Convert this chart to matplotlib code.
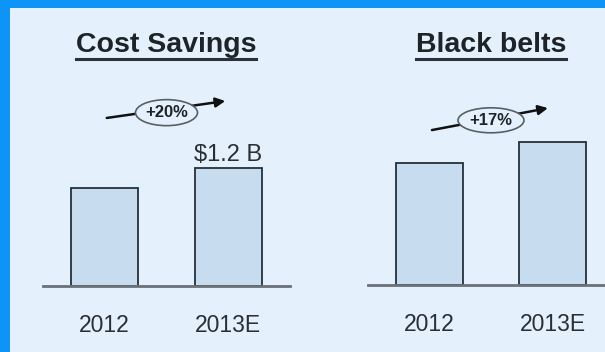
import matplotlib
matplotlib.use("Agg")
import matplotlib.pyplot as plt
from matplotlib.lines import Line2D
from matplotlib.patches import Rectangle, Ellipse

# ---- data ---------------------------------------------------------------
years = ["2012", "2013E"]
cost_savings = [1.0, 1.2]          # $ B
black_belts = [100, 117]           # index, 2012 = 100
cost_label = "$1.2 B"
cost_growth = "+20%"
belt_growth = "+17%"

# ---- style --------------------------------------------------------------
BLUE = "#0C95F6"
BG = "#E4F1FC"
BAR = "#C8DCF0"
EDGE = "#25313A"
BASE = "#6B7178"
TXT = "#1E2328"
FONT = ["Liberation Sans", "DejaVu Sans"]
plt.rcParams["font.family"] = FONT

W, H = 605, 352
fig = plt.figure(figsize=(W / 100, H / 100), dpi=100)
fig.patch.set_facecolor(BG)
# blue frame: top strip and left strip
for box in [(0, 1 - 8 / H, 1, 8 / H), (0, 0, 10 / W, 1)]:
    fig.patches.append(Rectangle(box[:2], box[2], box[3], transform=fig.transFigure,
                                 facecolor=BLUE, edgecolor="none"))


def px_axes(x0, x1, y_base, y_top):
    """axes from pixel box (y measured from top)"""
    return fig.add_axes([x0 / W, 1 - y_base / H, (x1 - x0) / W, (y_base - y_top) / H])


def panel(ax, values, ymax, xmax, growth, start, end, ell, ell_px=(62, 26)):
    ax.set_facecolor("none")
    ax.bar(range(len(values)), values, width=0.54, color=BAR,
           edgecolor=EDGE, linewidth=1.3, zorder=3)
    ax.set_xlim(-0.5, xmax)
    ax.set_ylim(0, ymax)
    for s in ["top", "right", "left"]:
        ax.spines[s].set_visible(False)
    ax.spines["bottom"].set_color(BASE)
    ax.spines["bottom"].set_linewidth(2)
    ax.spines["bottom"].set_zorder(4)
    ax.set_yticks([])
    ax.set_xticks(range(len(values)))
    ax.set_xticklabels(years, fontsize=16.5, color="#2A2F35")
    ax.tick_params(axis="x", length=0, pad=20)
    # growth arrow with ellipse label
    ax.annotate("", xy=end, xytext=start,
                arrowprops=dict(arrowstyle="-|>", color="#111", lw=1.8,
                                mutation_scale=14, shrinkA=0, shrinkB=0),
                zorder=5)
    # ellipse size given in pixels -> data units
    inv = ax.transData.inverted()
    cx, cy = ax.transData.transform(ell)
    (x0, y0), (x1, y1) = inv.transform([(cx - ell_px[0] / 2, cy - ell_px[1] / 2),
                                        (cx + ell_px[0] / 2, cy + ell_px[1] / 2)])
    ax.add_patch(Ellipse(ell, x1 - x0, y1 - y0, fc=BG, ec="#5A5F64", lw=1.2, zorder=6))
    ax.text(ell[0], ell[1], growth, ha="center", va="center", fontsize=12,
            fontweight="bold", color=TXT, zorder=7)


ax1 = px_axes(43, 290, 286, 60)
panel(ax1, cost_savings, 226 / 98.5, 1.5, cost_growth,
      (0.016, 1.706), (0.976, 1.878), (0.5, 1.76))
ax1.text(1, cost_savings[1] + 0.065, cost_label, ha="center", va="baseline",
         fontsize=17, color="#2A2F35")

ax2 = px_axes(368, 605, 285, 60)
panel(ax2, black_belts, 225 / 1.22, 1.427, belt_growth,
      (0.02, 127), (0.963, 145), (0.5, 135), ell_px=(66, 25))

# ---- titles with underline ---------------------------------------------
titles = [("Cost Savings", 166), ("Black belts", 491)]
fig.canvas.draw()
r = fig.canvas.get_renderer()
for t, xc in titles:
    txt = fig.text(xc / W, 1 - 52 / H, t, ha="center", va="baseline",
                   fontsize=20.5, fontweight="bold", color=TXT)
    bb = txt.get_window_extent(renderer=r)
    y = 1 - 59 / H
    fig.add_artist(Line2D([bb.x0 / W, bb.x1 / W], [y, y], color="#2A3138",
                          lw=2.2, transform=fig.transFigure))

fig.savefig("out.png", dpi=100, facecolor=fig.get_facecolor())
